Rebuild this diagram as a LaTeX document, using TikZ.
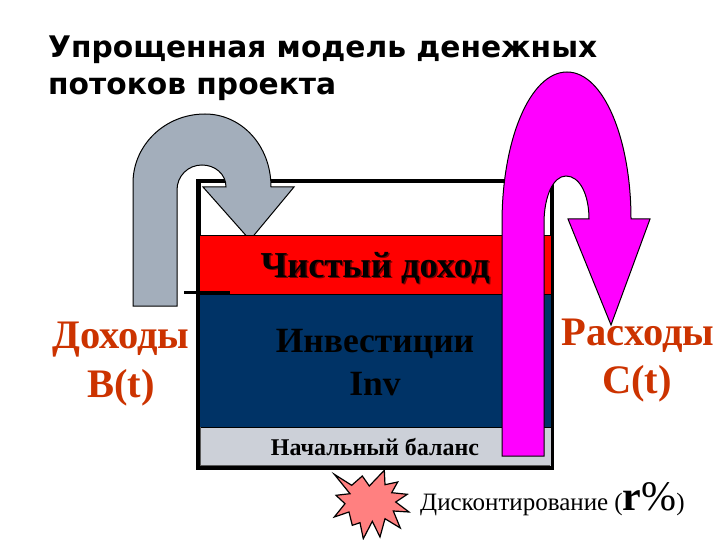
\documentclass[tikz,border=0pt]{standalone}
\usepackage{fontspec}
\setmainfont{Liberation Serif}
\newfontfamily\titlefont{DejaVu Sans}
\definecolor{rust}{HTML}{CC3300}
\definecolor{navy}{HTML}{003366}
\definecolor{paleblue}{HTML}{CCD0D8}
\definecolor{arrowgrey}{HTML}{A3AEBB}
\definecolor{burst}{HTML}{FF8080}
\definecolor{pinkflow}{RGB}{255,0,255}
\tikzset{
  x=1pt,y=-1pt,
  titletext/.style={anchor=base west,inner sep=0,font=\titlefont\bfseries\fontsize{29.7}{34}\selectfont},
  big/.style={anchor=base,inner sep=0,text=rust,font=\bfseries\fontsize{40.5}{44}\selectfont},
  mid/.style={anchor=base,inner sep=0,text=black,font=\bfseries\fontsize{35.5}{40}\selectfont},
  small/.style={anchor=base,inner sep=0,text=black,font=\bfseries\fontsize{24}{28}\selectfont},
  band/.style={draw=black,line width=0.5pt},
  flow/.style={draw=black,line width=1pt,line join=miter}
}
\begin{document}
\begin{tikzpicture}
\useasboundingbox (0,0) rectangle (720,540);
\fill[white] (0,0) rectangle (720,540);
% tank frame
\draw[line width=4.5pt,fill=white] (198.5,181) rectangle (552,468);
% grey arrow
\path[flow,fill=arrowgrey] (133,306) -- (133,183)
  .. controls (133,145) and (165,114) .. (205,114)
  .. controls (241,114) and (271,145) .. (271,187)
  -- (294,187) -- (250,240) -- (203,187) -- (226,187)
  .. controls (226,174) and (215,165) .. (202,165)
  .. controls (188,165) and (177,176) .. (177,190)
  -- (177,306) -- cycle;
% bands
\fill[red,band] (199,235) rectangle (551,294);
\fill[navy,band] (199,294) rectangle (551,427);
\fill[paleblue,band] (200,427) rectangle (551,466);
\draw[gray!70!black,line width=1.5pt] (200.5,427) -- (200.5,465.5) -- (550,465.5);
\draw[line width=3pt] (184,292) -- (230,292);
% magenta arrow
\path[flow,fill=pinkflow] (502,456) -- (502,223)
  .. controls (502,140) and (530,72) .. (567,72)
  .. controls (604,72) and (631,140) .. (631,219)
  -- (650,219) -- (611,325) -- (568,219) -- (589,219)
  .. controls (589,195) and (580,176) .. (566,176)
  .. controls (553,176) and (544,197) .. (544,223)
  -- (544,456) -- cycle;
% burst
\path[flow,fill=burst,line width=1.2pt]
  (334.3,474.3) -- (351.7,485.3) -- (362.3,476) -- (369.3,486) -- (384.3,470.3) -- (385,484.7)
  -- (397.7,482) -- (391.7,492.7) -- (407.3,494.3) -- (395.7,502) -- (409,512) -- (393.3,511)
  -- (400.3,528) -- (385,518.7) -- (380,537) -- (372.3,521.3) -- (363.3,538.7) -- (360,522.7)
  -- (352.3,525.3) -- (349,512) -- (334.3,517) -- (345,503.7) -- (336,495.3) -- (350,493.7) -- cycle;
% texts
\node[titletext] (title1) at (48,58) {Упрощенная модель денежных};
\node[titletext] (title2) at (48,95) {потоков проекта};
\node[big] (income) at (121,348) {Доходы};
\node[big] (incomeb) at (121,397) {B(t)};
\node[big] (cost) at (638,345) {Расходы};
\node[big] (costc) at (637,393) {C(t)};
\node[mid,font=\bfseries\fontsize{36.5}{40}\selectfont,text=black!55!red] (netshadow) at (376.5,278.5) {Чистый доход};
\node[mid,font=\bfseries\fontsize{36.5}{40}\selectfont] (net) at (375,277) {Чистый доход};
\node[mid] (inv) at (375,352) {Инвестиции};
\node[mid] (invb) at (375,395) {Inv};
\node[small] (start) at (375,455) {Начальный баланс};
\node[anchor=base west,inner sep=0,font=\fontsize{25}{28}\selectfont] (disc) at (420,510)
  {Дисконтирование (\textbf{\fontsize{42}{44}\selectfont r}{\fontsize{42}{44}\selectfont\%}{)}};
\end{tikzpicture}
\end{document}
